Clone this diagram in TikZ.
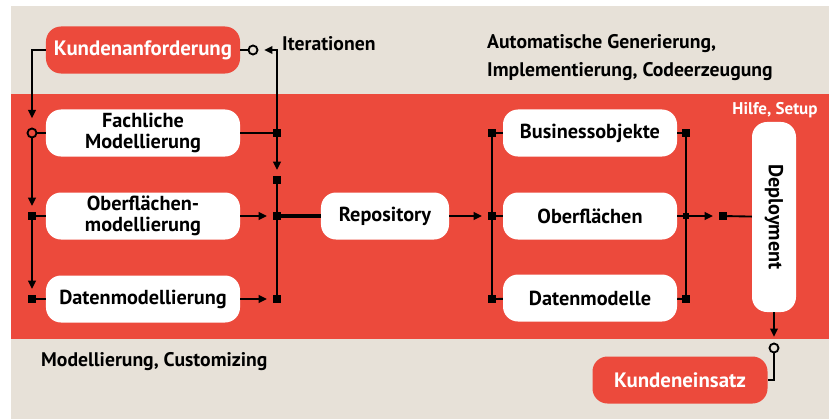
\documentclass[tikz,border=0pt]{standalone}
\usepackage{fontspec}
\setmainfont{PT Sans}
\usetikzlibrary{arrows.meta}
\definecolor{bandred}{RGB}{236,74,60}
\definecolor{paper}{RGB}{231,225,216}
\tikzset
{
    % Style for the white process boxes
    box/.style=
    {
        fill=white,
        rounded corners=0.45cm,
        minimum width=5.82cm,
        minimum height=1.41cm,
        inner sep=2pt,
        align=center,
        font=\bfseries\fontsize{17.3}{17.5}\selectfont
    },
    % Style for the red customer boxes
    redbox/.style=
    {
        box,
        fill=bandred,
        text=white,
        font=\bfseries\fontsize{17.8}{19}\selectfont
    },
    % Style for free labels
    label text/.style=
    {
        font=\bfseries\fontsize{16.8}{23.8}\selectfont,
        align=left,
        inner sep=0pt
    },
    % Style for plain connectors
    line/.style=
    {
        line width=1.6pt
    },
    % Style for connectors with an arrow, ending a little before the marker
    flow/.style=
    {
        line,
        -{Triangle[length=7pt,width=6.5pt]},
        shorten >=5pt
    },
    % Thick connector into the repository
    thick line/.style=
    {
        line width=2.8pt
    },
    % Junction marker
    jdot/.style=
    {
        fill=black,
        shape=rectangle,
        minimum size=0.24cm,
        inner sep=0pt
    },
    % Open ring marker
    ring/.style=
    {
        draw,
        line width=1.6pt,
        shape=circle,
        minimum size=0.27cm,
        inner sep=0pt
    }
}

\begin{document}
\begin{tikzpicture}[x=0.03cm,y=-0.03cm]
    % Define the bounding box, in pixels of the original
    \path [use as bounding box] (0,0) rectangle (829,419);

    % Background and red band
    \fill[paper] (11,6) rectangle (829,419);
    \fill[bandred] (11,94) rectangle (829,339);

    % Boxes
    \node (ka) [redbox] at (143,50) {Kundenanforderung};
    \node (fm) [box] at (143,133) {Fachliche\\Modellierung};
    \node (om) [box] at (143,216) {Oberflächen-\\modellierung};
    \node (dm) [box] at (143,299) {Datenmodellierung};
    \node (repo) [box,minimum width=3.84cm] at (385,216) {Repository};
    \node (bo) [box,minimum width=5.22cm] at (590,133) {Businessobjekte};
    \node (of) [box,minimum width=5.22cm] at (590,216) {Oberflächen};
    \node (dmo) [box,minimum width=5.22cm] at (590,298) {Datenmodelle};
    \node (dep) [box,rotate=-90,minimum width=5.7cm,minimum height=1.32cm] at (774,217) {Deployment};
    \node (ke) [redbox,minimum width=5.25cm] at (680,380) {Kundeneinsatz};

    % Labels
    \node (it) [label text,anchor=west] at (282,44) {Iterationen};
    \node (auto) [label text,anchor=north west] at (487,34) {Automatische Generierung,\\Implementierung, Codeerzeugung};
    \node (hs) [label text,text=white,font=\bfseries\fontsize{14.5}{15}\selectfont] at (775,110) {Hilfe, Setup};
    \node (mc) [label text,anchor=west] at (41,362) {Modellierung, Customizing};

    % Markers
    %% Left chain
    \node (r1) [ring] at (32,133) {};
    \node (s1) [jdot] at (32,216) {};
    \node (s2) [jdot] at (32,299) {};
    %% Iteration loop and collector
    \node (r0) [ring] at (253,50) {};
    \node (q1) [jdot] at (277,133) {};
    \node (q2) [jdot] at (277,180) {};
    \node (q3) [jdot] at (277,216) {};
    \node (q4) [jdot] at (277,299) {};
    %% Generation fork
    \node (p1) [jdot] at (492,133) {};
    \node (p2) [jdot] at (492,216) {};
    \node (p3) [jdot] at (492,299) {};
    \node (t1) [jdot] at (686,133) {};
    \node (t2) [jdot,minimum size=0.18cm] at (686,216) {};
    \node (t3) [jdot] at (686,299) {};
    \node (u1) [jdot] at (723,216) {};
    %% Deployment exit
    \node (r2) [ring] at (774,348) {};

    % Connectors
    %% Left chain
    \draw[flow,shorten >=8pt] (ka.west) -| (r1);
    \draw[line] (r1) -- (fm);
    \draw[flow] (r1) -- (s1);
    \draw[line] (s1) -- (om);
    \draw[flow] (s1) -- (s2);
    \draw[line] (s2) -- (dm);
    %% Into the collector
    \draw[line] (fm) -- (q1);
    \draw[flow] (om) -- (q3);
    \draw[flow] (dm) -- (q4);
    %% Iterations back to the customer
    \draw[line] (ka) -- (r0);
    \draw[flow] (q1) |- (r0);
    \draw[flow] (q1) -- (q2);
    \draw[line] (q2) -- (q4);
    %% Repository
    \draw[thick line] (q3) -- (repo);
    \draw[flow] (repo) -- (p2);
    %% Fork to the generated parts
    \draw[line] (p1) -- (p3);
    \draw[line] (p1) -- (bo);
    \draw[line] (p2) -- (of);
    \draw[line] (p3) -- (dmo);
    \draw[line] (t1) -- (t3);
    \draw[line] (bo) -- (t1);
    \draw[line] (of) -- (t2);
    \draw[line] (dmo) -- (t3);
    %% Deployment
    \draw[flow] (t2) -- (u1);
    \draw[line] (u1) -- (dep);
    \draw[flow] (dep) -- (r2);
    \draw[line] (r2) |- (ke);
\end{tikzpicture}
\end{document}
